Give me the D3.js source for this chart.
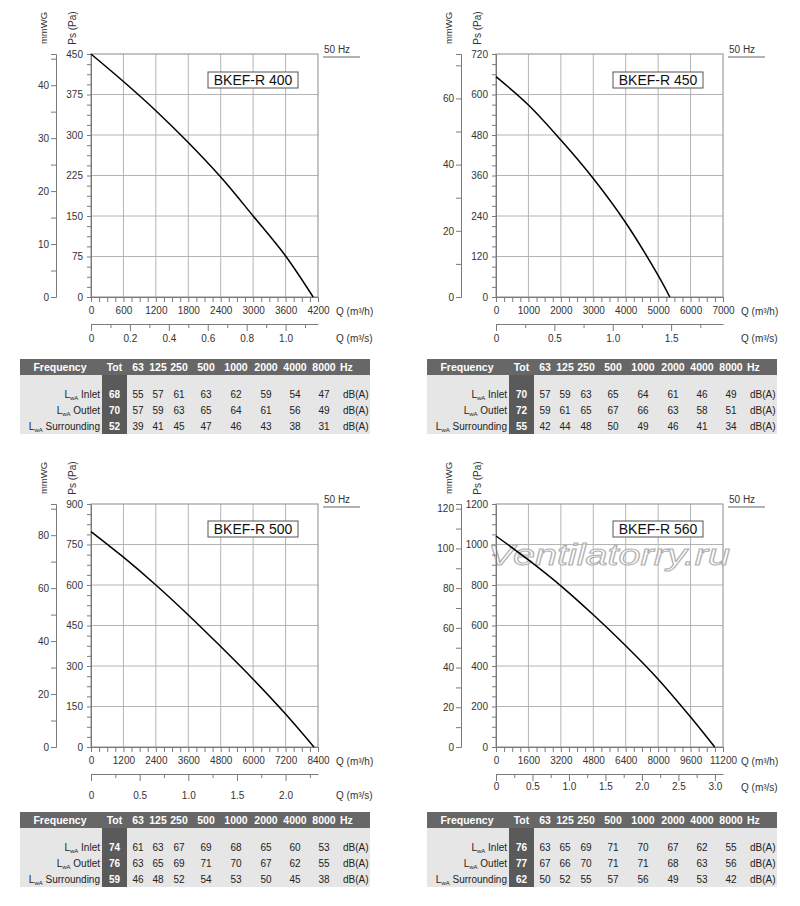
<!DOCTYPE html>
<html><head><meta charset="utf-8">
<script src="https://cdn.jsdelivr.net/npm/d3@7"></script>
<style>body{margin:0;background:#fff} svg{display:block} text{font-family:"Liberation Sans",Arial,sans-serif}</style>
</head><body><svg id="c" width="800" height="906"></svg>
<script>
// ---------- data ----------
const models = ["BKEF-R 400", "BKEF-R 450", "BKEF-R 500", "BKEF-R 560"];
const qMax   = [4200, 7000, 8400, 11200];
const qStep  = [600, 1000, 1200, 1600];
const psMax  = [450, 720, 900, 1200];
const psStep = [75, 120, 150, 200];
const mmStep = [10, 20, 20, 20];
const m3sStep = [0.2, 0.5, 0.5, 0.5];

const curve400Q  = [0, 600, 1200, 1800, 2400, 3000, 3600, 4110];
const curve400Ps = [450, 399, 345, 286, 222, 150, 76, 0];
const curve450Q  = [0, 1000, 2000, 3000, 4000, 5000, 5360];
const curve450Ps = [653, 569, 465, 351, 220, 64, 0];
const curve500Q  = [0, 1200, 2400, 3600, 4800, 6000, 7200, 8250];
const curve500Ps = [798, 703, 600, 489, 372, 251, 122, 0];
const curve560Q  = [0, 1600, 3200, 4800, 6400, 8000, 9600, 10790];
const curve560Ps = [1042, 924, 796, 653, 500, 335, 148, 0];
const curveQ  = [curve400Q, curve450Q, curve500Q, curve560Q];
const curvePs = [curve400Ps, curve450Ps, curve500Ps, curve560Ps];

const freqBands = ["63", "125", "250", "500", "1000", "2000", "4000", "8000"];
const rowNames  = ["Inlet", "Outlet", "Surrounding"];
const tot400 = [68, 70, 52];
const bands400 = [[55,57,61,63,62,59,54,47],[57,59,63,65,64,61,56,49],[39,41,45,47,46,43,38,31]];
const tot450 = [70, 72, 55];
const bands450 = [[57,59,63,65,64,61,46,49],[59,61,65,67,66,63,58,51],[42,44,48,50,49,46,41,34]];
const tot500 = [74, 76, 59];
const bands500 = [[61,63,67,69,68,65,60,53],[63,65,69,71,70,67,62,55],[46,48,52,54,53,50,45,38]];
const tot560 = [76, 77, 62];
const bands560 = [[63,65,69,71,70,67,62,55],[67,66,70,71,71,68,63,56],[50,52,55,57,56,49,53,42]];
const tots  = [tot400, tot450, tot500, tot560];
const bands = [bands400, bands450, bands500, bands560];

// ---------- layout ----------
const svg = d3.select("#c");
const PW = 227, PH = 243;
const layout = [
  {l: 91,  t: 54,  sPad: 3.5, tb: 18},
  {l: 496, t: 54,  sPad: 3.5, tb: 18},
  {l: 91,  t: 504, sPad: 10.5, tb: 17},
  {l: 496, t: 504, sPad: 2,  tb: 17}
];
const tableLayout = [{x: 20, y: 359}, {x: 427, y: 359}, {x: 20, y: 812}, {x: 427, y: 812}];
const AX = "#7a7a7a", GRID = "#b4b4b4", TXT = "#333";
const fmtInt = d3.format("d");

function styleAxis(sel, fs) {
  sel.attr("font-family", null).attr("font-size", null);
  sel.select(".domain").attr("stroke", AX);
  sel.selectAll(".tick line").attr("stroke", AX);
  sel.selectAll(".tick text").attr("fill", TXT).style("font-size", (fs || 10) + "px");
}
function steps(max, step) {
  const n = Math.floor(max / step + 1e-9);
  return d3.range(0, n + 1).map(k => +(k * step).toFixed(6));
}

models.forEach((m, i) => {
  const L = layout[i];
  const g = svg.append("g");
  const x  = d3.scaleLinear().domain([0, qMax[i]]).range([L.l, L.l + PW]);
  const y  = d3.scaleLinear().domain([0, psMax[i]]).range([L.t + PH, L.t]);
  const xs = d3.scaleLinear().domain([0, qMax[i] / 3600]).range([L.l, L.l + PW]);
  const ym = d3.scaleLinear().domain([0, psMax[i] / 9.80665]).range([L.t + PH, L.t]);

  const xMaj = steps(qMax[i], qStep[i]);
  const xMin = steps(qMax[i], qStep[i] / 4).filter(v => xMaj.indexOf(v) < 0);
  const yMaj = steps(psMax[i], psStep[i]);
  const yMin = steps(psMax[i], psStep[i] / 4).filter(v => yMaj.indexOf(v) < 0);
  const sAll = steps(qMax[i] / 3600, m3sStep[i] / 2);
  const sMaj = sAll.filter((v, k) => k % 2 === 0);
  const sMin = sAll.filter((v, k) => k % 2 === 1);
  const mAll = steps(psMax[i] / 9.80665, mmStep[i] / 2);
  const mMaj = mAll.filter((v, k) => k % 2 === 0);
  const mMin = mAll.filter((v, k) => k % 2 === 1);

  // grid
  g.append("g").selectAll("line").data(xMaj.slice(1, -1)).join("line")
    .attr("x1", d => x(d)).attr("x2", d => x(d)).attr("y1", L.t).attr("y2", L.t + PH)
    .attr("stroke", GRID).attr("stroke-width", 1);
  g.append("g").selectAll("line").data(yMaj.slice(1, -1)).join("line")
    .attr("y1", d => y(d)).attr("y2", d => y(d)).attr("x1", L.l).attr("x2", L.l + PW)
    .attr("stroke", GRID).attr("stroke-width", 1);
  g.append("rect").attr("x", L.l).attr("y", L.t).attr("width", PW).attr("height", PH)
    .attr("fill", "none").attr("stroke", "#8a8a8a");

  // watermark on the last chart
  if (i === 3) {
    g.append("text").attr("x", L.l - 8).attr("y", L.t + 61)
      .attr("textLength", 242).attr("lengthAdjust", "spacingAndGlyphs")
      .style("font-size", "29px").style("font-style", "italic")
      .attr("fill", "#fff").attr("fill-opacity", 0.55).attr("stroke", "#b0b0b0").attr("stroke-width", 1)
      .text("Ventilatorry.ru");
  }

  // axes: Ps
  const ay = g.append("g").attr("transform", `translate(${L.l},0)`)
    .call(d3.axisLeft(y).tickValues(yMaj).tickFormat(fmtInt).tickSize(4).tickPadding(4).tickSizeOuter(0));
  styleAxis(ay);
  const ay2 = g.append("g").attr("transform", `translate(${L.l},0)`)
    .call(d3.axisLeft(y).tickValues(yMin).tickSize(4).tickFormat("").tickSizeOuter(0));
  styleAxis(ay2); ay2.select(".domain").remove();

  // mmWG axis
  const am = g.append("g").attr("transform", `translate(${L.l - 35},0)`)
    .call(d3.axisLeft(ym).tickValues(mMaj).tickFormat(fmtInt).tickSize(5).tickPadding(2).tickSizeOuter(5));
  styleAxis(am);
  const am2 = g.append("g").attr("transform", `translate(${L.l - 35},0)`)
    .call(d3.axisLeft(ym).tickValues(mMin).tickSize(5).tickFormat("").tickSizeOuter(0));
  styleAxis(am2); am2.select(".domain").remove();

  // Q m3/h
  const ax = g.append("g").attr("transform", `translate(0,${L.t + PH})`)
    .call(d3.axisBottom(x).tickValues(xMaj).tickFormat(fmtInt).tickSize(5).tickPadding(5).tickSizeOuter(0));
  styleAxis(ax);
  const ax2 = g.append("g").attr("transform", `translate(0,${L.t + PH})`)
    .call(d3.axisBottom(x).tickValues(xMin).tickSize(5).tickFormat("").tickSizeOuter(0));
  styleAxis(ax2); ax2.select(".domain").remove();

  // Q m3/s
  const sy = L.t + PH + 27;
  const fmtS = v => v === 0 ? "0" : d3.format(".1f")(v);
  const as = g.append("g").attr("transform", `translate(0,${sy})`)
    .call(d3.axisBottom(xs).tickValues(sMaj).tickFormat(fmtS).tickSize(7).tickPadding(L.sPad).tickSizeOuter(0));
  styleAxis(as);
  const as2 = g.append("g").attr("transform", `translate(0,${sy})`)
    .call(d3.axisBottom(xs).tickValues(sMin).tickSize(4).tickFormat("").tickSizeOuter(0));
  styleAxis(as2); as2.select(".domain").remove();

  // axis titles
  g.append("text").attr("x", L.l + PW + 18).attr("y", L.t + PH + 17.5)
    .style("font-size", "10px").attr("fill", TXT).text("Q (m³/h)");
  g.append("text").attr("x", L.l + PW + 18).attr("y", sy + 7 + L.sPad + 7.5)
    .style("font-size", "10px").attr("fill", TXT).text("Q (m³/s)");
  g.append("text").attr("transform", `translate(${L.l - 44},${L.t - 26}) rotate(-90)`)
    .attr("text-anchor", "middle").style("font-size", "9.5px").attr("fill", TXT).text("mmWG");
  g.append("text").attr("transform", `translate(${L.l - 15},${L.t - 26}) rotate(-90)`)
    .attr("text-anchor", "middle").style("font-size", "10px").attr("fill", TXT).text("Ps (Pa)");

  // 50 Hz
  g.append("text").attr("x", L.l + PW + 6).attr("y", L.t - 1)
    .style("font-size", "10px").attr("fill", TXT).text("50 Hz");
  g.append("line").attr("x1", L.l + PW + 5).attr("x2", L.l + PW + 42)
    .attr("y1", L.t + 3).attr("y2", L.t + 3).attr("stroke", "#666");

  // title box
  g.append("rect").attr("x", L.l + PW - 110).attr("y", L.t + L.tb).attr("width", 90).attr("height", 16)
    .attr("fill", "#fff").attr("stroke", "#555");
  g.append("text").attr("x", L.l + PW - 65).attr("y", L.t + L.tb + 13)
    .attr("text-anchor", "middle").style("font-size", "14px").attr("fill", "#111").text(m);

  // curve
  const pts = curveQ[i].map((q, k) => [q, curvePs[i][k]]);
  g.append("path").datum(pts)
    .attr("d", d3.line().x(d => x(d[0])).y(d => y(d[1])).curve(d3.curveCatmullRom.alpha(0.5)))
    .attr("fill", "none").attr("stroke", "#000").attr("stroke-width", 1.5);

  // ---------- table ----------
  const T = tableLayout[i];
  const tg = svg.append("g").attr("transform", `translate(${T.x},${T.y})`);
  const TW = 350, HH = 16, BH = 59;
  const colX = [118, 138, 159, 186, 216, 246, 275, 304];
  tg.append("rect").attr("x", 0).attr("y", 0).attr("width", TW).attr("height", HH).attr("fill", "#676767");
  tg.append("rect").attr("x", 0).attr("y", HH).attr("width", TW).attr("height", BH).attr("fill", "#e6e6e6");
  tg.append("rect").attr("x", 82).attr("y", HH).attr("width", 25).attr("height", BH).attr("fill", "#5a5a5a");
  const hdr = tg.append("g").attr("fill", "#fff").style("font-size", "10.5px").style("font-weight", "bold");
  hdr.append("text").attr("x", 40).attr("y", 12).attr("text-anchor", "middle").text("Frequency");
  hdr.append("text").attr("x", 94.5).attr("y", 12).attr("text-anchor", "middle").text("Tot");
  hdr.selectAll("text.f").data(freqBands).join("text").attr("class", "f")
    .attr("x", (d, k) => colX[k]).attr("y", 12).attr("text-anchor", "middle").text(d => d);
  hdr.append("text").attr("x", 320).attr("y", 12).text("Hz");

  rowNames.forEach((r, ri) => {
    const by = 39 + ri * 16;
    const lt = tg.append("text").attr("x", 80).attr("y", by).attr("text-anchor", "end")
      .style("font-size", "10px").attr("fill", "#222");
    lt.append("tspan").text("L");
    lt.append("tspan").attr("dy", 2).style("font-size", "6px").text("wA");
    lt.append("tspan").attr("dy", -2).text(" " + r);
    tg.append("text").attr("x", 94.5).attr("y", by).attr("text-anchor", "middle")
      .style("font-size", "10px").style("font-weight", "bold").attr("fill", "#fff").text(tots[i][ri]);
    tg.append("g").selectAll("text").data(bands[i][ri]).join("text")
      .attr("x", (d, k) => colX[k]).attr("y", by).attr("text-anchor", "middle")
      .style("font-size", "10px").attr("fill", "#222").text(d => d);
    tg.append("text").attr("x", 323).attr("y", by).style("font-size", "10px").attr("fill", "#222").text("dB(A)");
  });
});
</script></body></html>
